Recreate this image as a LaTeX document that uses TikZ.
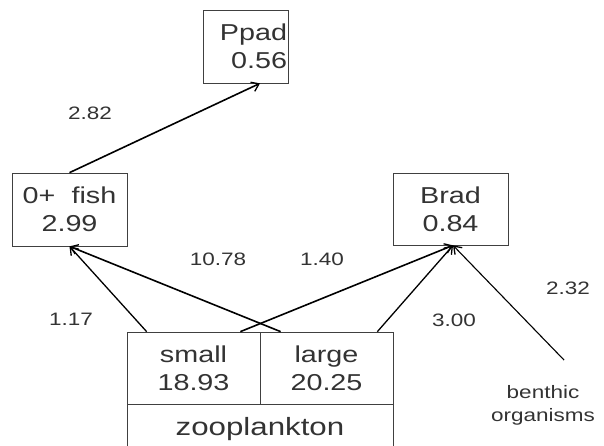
\documentclass[tikz,border=0pt]{standalone}
\usepackage{fontspec}
\newfontfamily\hf[FakeStretch=1.25]{Liberation Sans}
\usetikzlibrary{arrows.meta}
\begin{document}
\begin{tikzpicture}[x=1pt,y=-1pt,
  box/.style={draw=black!75, line width=0.7pt, inner sep=0pt, font=\hf\fontsize{23}{28}\selectfont, align=center, text=black!80},
  flow/.style={line width=1.6pt, -{Straight Barb[length=7pt,width=10pt,line width=1.3pt]}},
  lab/.style={font=\hf\fontsize{18}{20}\selectfont, text=black!80}]
\clip (0,0) rectangle (604,446);
\node[box, minimum width=85pt, minimum height=73pt, text width=83pt, inner xsep=1pt, align=right] (ppad) at (245.5,46.5) {Ppad\\0.56};
\node[box, minimum width=115pt, minimum height=73pt] (fish) at (69.5,209.5) {0+\hspace{0.7em}fish\\2.99};
\node[box, minimum width=115pt, minimum height=72pt] (brad) at (450.5,209) {Brad\\0.84};
\node[box, minimum width=133pt, minimum height=72pt] (small) at (193.5,368) {small\\18.93};
\node[box, minimum width=133pt, minimum height=72pt] (large) at (326.5,368) {large\\20.25};
\node[box, minimum width=266pt, minimum height=50pt, anchor=north, font=\hf\fontsize{25}{28}\selectfont] (zoo) at (260,404) {zooplankton};
\coordinate (benth) at (564,360);
\node[lab, align=center, font=\hf\fontsize{18}{23}\selectfont] (benthtxt) at (543,405) {benthic\\organisms};
\draw[flow] (fish.north) -- ([xshift=14.5pt]ppad.south);
\draw[flow, line width=1.3pt] ([xshift=20pt]small.north west) -- (fish.south);
\draw[flow] ([xshift=21pt]large.north west) -- (fish.south);
\draw[flow] ([xshift=-20pt]small.north east) -- ([xshift=2.5pt]brad.south);
\draw[flow, line width=1.3pt] ([xshift=-16pt]large.north east) -- ([xshift=2.5pt]brad.south);
\draw[flow, line width=1.1pt] (benth) -- ([xshift=2.5pt]brad.south);
\node[lab] (l1) at (90,113) {2.82};
\node[lab] (l2) at (218,259) {10.78};
\node[lab] (l3) at (322,259) {1.40};
\node[lab] (l4) at (71,319) {1.17};
\node[lab] (l5) at (454,320) {3.00};
\node[lab] (l6) at (568,288) {2.32};
\end{tikzpicture}
\end{document}
